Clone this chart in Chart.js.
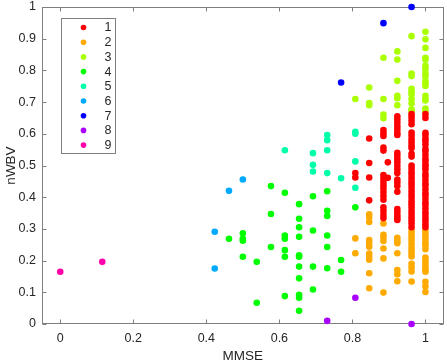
<!DOCTYPE html>
<html>
<head>
<meta charset="utf-8">
<script src="https://cdn.jsdelivr.net/npm/chart.js@4.4.1/dist/chart.umd.min.js"></script>
<style>
  html, body { margin: 0; padding: 0; background: #fff; }
  #wrap { width: 447px; height: 364px; position: relative; }
</style>
</head>
<body>
<div id="wrap"><canvas id="myChart"></canvas></div>
<script>
// each cluster: [MMSE, [nWBV values in that MMSE column]]
var cluster1 = [
    [0.808, [0.476, 0.462]],
    [0.846, [0.585, 0.508, 0.462, 0.39]],
    [0.885, [0.612, 0.602, 0.593, 0.557, 0.547, 0.47, 0.46, 0.449, 0.438, 0.428, 0.416, 0.404, 0.392, 0.368, 0.357, 0.345, 0.334]],
    [0.897, [0.51, 0.461]],
    [0.923, [0.655, 0.645, 0.635, 0.624, 0.614, 0.603, 0.596, 0.54, 0.531, 0.52, 0.51, 0.499, 0.488, 0.476, 0.456, 0.446, 0.435, 0.417, 0.363, 0.353, 0.343, 0.335, 0.328]],
    [0.962, [0.662, 0.652, 0.641, 0.63, 0.604, 0.594, 0.583, 0.573, 0.563, 0.555, 0.537, 0.528, 0.5, 0.49, 0.479, 0.47, 0.46, 0.449, 0.44, 0.43, 0.419, 0.408, 0.398, 0.387, 0.378, 0.368, 0.357, 0.348, 0.337, 0.327, 0.317, 0.305]],
    [1, [0.662, 0.65, 0.603, 0.596, 0.585, 0.577, 0.566, 0.552, 0.545, 0.533, 0.521, 0.514, 0.503, 0.496, 0.487, 0.474, 0.466, 0.455, 0.444, 0.437, 0.425, 0.413, 0.406, 0.395, 0.384, 0.376, 0.365, 0.353, 0.345, 0.334, 0.326, 0.315, 0.305]]
];
var cluster2 = [
    [0.808, [0.27, 0.223]],
    [0.846, [0.346, 0.337, 0.322, 0.265, 0.256, 0.244, 0.222, 0.212, 0.203, 0.16, 0.113]],
    [0.885, [0.317, 0.281, 0.272, 0.262, 0.238, 0.207, 0.099]],
    [0.923, [0.272, 0.263, 0.255, 0.223, 0.17, 0.157, 0.135]],
    [0.962, [0.294, 0.284, 0.274, 0.264, 0.253, 0.243, 0.233, 0.223, 0.213, 0.19, 0.179, 0.166, 0.134]],
    [1, [0.295, 0.285, 0.275, 0.265, 0.255, 0.248, 0.236, 0.21, 0.2, 0.19, 0.18, 0.17, 0.165, 0.133, 0.118, 0.101]]
];
var cluster3 = [
    [0.808, [0.71]],
    [0.846, [0.746, 0.697, 0.69]],
    [0.885, [0.84, 0.71, 0.661, 0.649]],
    [0.923, [0.86, 0.834, 0.767, 0.72, 0.712, 0.69]],
    [0.962, [0.908, 0.79, 0.782, 0.742, 0.733, 0.725, 0.71, 0.696, 0.677, 0.671]],
    [1, [0.922, 0.898, 0.871, 0.84, 0.834, 0.815, 0.804, 0.79, 0.782, 0.767, 0.759, 0.751, 0.72, 0.71, 0.705, 0.68, 0.671]]
];
var cluster4 = [
    [0.462, [0.269]],
    [0.5, [0.286, 0.269, 0.263, 0.212]],
    [0.538, [0.196, 0.067]],
    [0.577, [0.435, 0.347, 0.243]],
    [0.615, [0.414, 0.279, 0.269, 0.233, 0.212, 0.088]],
    [0.654, [0.378, 0.332, 0.305, 0.275, 0.217, 0.212, 0.181, 0.144, 0.092, 0.083, 0.042]],
    [0.692, [0.403, 0.295, 0.181, 0.109]],
    [0.731, [0.419, 0.357, 0.341, 0.279, 0.243, 0.176]],
    [0.769, [0.202, 0.165]],
    [0.808, [0.368]]
];
var cluster5 = [
    [0.615, [0.548]],
    [0.692, [0.539, 0.502, 0.481]],
    [0.731, [0.596, 0.58, 0.548, 0.476]],
    [0.769, [0.46]],
    [0.808, [0.606, 0.6, 0.513, 0.43]]
];
var cluster6 = [
    [0.423, [0.291, 0.175]],
    [0.462, [0.42]],
    [0.5, [0.456]]
];
var cluster7 = [
    [0.769, [0.762]],
    [0.885, [0.949]],
    [0.962, [1.0]]
];
var cluster8 = [
    [0.731, [0.01]],
    [0.808, [0.083]],
    [0.962, [0.0]]
];
var cluster9 = [
    [0, [0.165]],
    [0.115, [0.196]]
];

var clusters = [cluster1, cluster2, cluster3, cluster4, cluster5, cluster6, cluster7, cluster8, cluster9];
var clusterLabels = ['1', '2', '3', '4', '5', '6', '7', '8', '9'];
var clusterColors = ['#ff0000', '#ffaa00', '#aaff00', '#00ff00', '#00ffaa', '#00aaff', '#0000ff', '#aa00ff', '#ff00aa'];

var xTicks = [0, 0.2, 0.4, 0.6, 0.8, 1];
var xTickLabels = ['0', '0.2', '0.4', '0.6', '0.8', '1'];
var yTicks = [0, 0.1, 0.2, 0.3, 0.4, 0.5, 0.6, 0.7, 0.8, 0.9, 1];
var yTickLabels = ['0', '0.1', '0.2', '0.3', '0.4', '0.5', '0.6', '0.7', '0.8', '0.9', '1'];

var axisGray = '#7f7f7f';
var textColor = '#262626';

Chart.defaults.font.family = "'Liberation Sans', Arial, sans-serif";
Chart.defaults.font.size = 12.5;
Chart.defaults.color = textColor;

function toPoints(cluster) {
    return cluster.flatMap(function (col) {
        return col[1].map(function (v) { return { x: col[0], y: v }; });
    });
}

// box around the plot with inward tick marks on all four sides
var frame = {
    id: 'frame',
    beforeDatasetsDraw: function (chart) {
        var ctx = chart.ctx, a = chart.chartArea;
        var xs = chart.scales.x, ys = chart.scales.y;
        var l = Math.round(a.left) + 0.5, r = Math.round(a.right) - 0.5;
        var t = Math.round(a.top) + 0.5, b = Math.round(a.bottom) - 0.5;
        var tl = 4;
        ctx.save();
        ctx.strokeStyle = axisGray;
        ctx.lineWidth = 1;
        ctx.strokeRect(l, t, r - l, b - t);
        ctx.beginPath();
        xTicks.forEach(function (v) {
            var px = Math.round(xs.getPixelForValue(v)) + 0.5;
            ctx.moveTo(px, b); ctx.lineTo(px, b - tl);
            ctx.moveTo(px, t); ctx.lineTo(px, t + tl);
        });
        yTicks.forEach(function (v) {
            var py = Math.round(ys.getPixelForValue(v)) + 0.5;
            ctx.moveTo(l, py); ctx.lineTo(l + tl, py);
            ctx.moveTo(r, py); ctx.lineTo(r - tl, py);
        });
        ctx.stroke();
        ctx.restore();
    }
};

// boxed legend in the upper-left corner of the axes
var boxLegend = {
    id: 'boxLegend',
    afterDraw: function (chart) {
        var ctx = chart.ctx, a = chart.chartArea;
        var bx = Math.round(a.left + 19) + 0.5, by = Math.round(a.top + 11) + 0.5;
        var bw = 54, bh = 135, rowH = 14.7;
        ctx.save();
        ctx.fillStyle = '#fff';
        ctx.fillRect(bx, by, bw, bh);
        ctx.strokeStyle = axisGray;
        ctx.lineWidth = 1;
        ctx.strokeRect(bx, by, bw, bh);
        ctx.font = "12.5px 'Liberation Sans', Arial, sans-serif";
        ctx.textAlign = 'center';
        ctx.textBaseline = 'middle';
        chart.data.datasets.forEach(function (ds, i) {
            var cy = by + 9 + i * rowH;
            ctx.fillStyle = ds.backgroundColor;
            ctx.beginPath();
            ctx.arc(bx + 22, cy, 2.8, 0, Math.PI * 2);
            ctx.fill();
            ctx.fillStyle = textColor;
            ctx.fillText(ds.label, bx + 46.5, cy + 0.5);
        });
        ctx.restore();
    }
};

var ctx = document.getElementById('myChart').getContext('2d');
var myChart = new Chart(ctx, {
    type: 'scatter',
    data: {
        datasets: clusters.map(function (c, i) {
            return {
                label: clusterLabels[i],
                data: toPoints(c),
                backgroundColor: clusterColors[i],
                borderWidth: 0,
                pointRadius: 3.3,
                pointHoverRadius: 3.3,
                clip: false
            };
        })
    },
    options: {
        responsive: true,
        maintainAspectRatio: false,
        animation: false,
        layout: { padding: { top: 7, right: 3, left: 0, bottom: 0 } },
        plugins: {
            legend: { display: false },
            tooltip: { enabled: false }
        },
        scales: {
            x: {
                type: 'linear',
                min: -0.05,
                max: 1.05,
                grid: { display: false, drawTicks: false },
                border: { display: false },
                afterBuildTicks: function (scale) {
                    scale.ticks = xTicks.map(function (v) { return { value: v }; });
                },
                afterFit: function (scale) {
                    scale.height = 40;
                    scale.paddingLeft = 0;
                    scale.paddingRight = 0;
                },
                ticks: {
                    padding: 7,
                    maxRotation: 0,
                    callback: function (v, i) { return xTickLabels[i]; }
                },
                title: {
                    display: true,
                    text: 'MMSE',
                    font: { size: 13.5 },
                    padding: { top: 0, bottom: 0 }
                }
            },
            y: {
                type: 'linear',
                min: 0,
                max: 1,
                grid: { display: false, drawTicks: false },
                border: { display: false },
                afterBuildTicks: function (scale) {
                    scale.ticks = yTicks.map(function (v) { return { value: v }; });
                },
                afterFit: function (scale) {
                    scale.width = 42;
                    scale.paddingTop = 0;
                    scale.paddingBottom = 0;
                },
                ticks: {
                    padding: 6,
                    callback: function (v, i) { return yTickLabels[i]; }
                },
                title: {
                    display: true,
                    text: 'nWBV',
                    font: { size: 13.5 },
                    padding: { top: 3, bottom: 0 }
                }
            }
        }
    },
    plugins: [frame, boxLegend]
});
</script>
</body>
</html>
